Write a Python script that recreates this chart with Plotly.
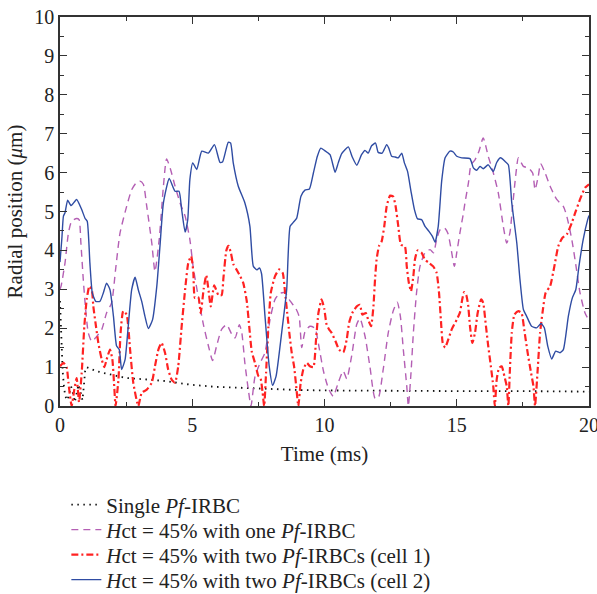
import plotly.graph_objects as go

# ---------------- data ----------------
single_t = [0, 0.03, 0.06, 0.1, 0.15, 0.2, 0.28, 0.35, 0.42, 0.5, 0.56, 0.62, 0.7, 0.78, 0.85, 0.9, 0.95,
            1.0, 1.4, 1.9, 2.5, 3.3, 4.0, 4.9, 5.9, 6.8, 8.0, 9.0, 10.0, 12.0, 14.0, 16.0, 18.0, 20.0]
single_r = [2.7, 2.0, 1.3, 0.9, 0.5, 0.25, 0.15, 0.35, 0.5, 0.3, 0.1, 0.3, 0.55, 0.35, 0.15, 0.5, 0.9,
            1.0, 0.89, 0.81, 0.72, 0.68, 0.64, 0.55, 0.49, 0.47, 0.43, 0.41, 0.4, 0.39, 0.38, 0.38, 0.38, 0.37]

one_t = [0, 0.04, 0.19, 0.32, 0.44, 0.63, 0.72, 0.79, 0.88, 0.97, 1.07, 1.20, 1.39, 1.58, 1.76, 1.95, 2.1,
         2.27, 2.52, 2.71, 2.90, 3.02, 3.15, 3.28, 3.47, 3.59, 3.75, 3.91, 4.03, 4.18, 4.35, 4.54, 4.73,
         4.91, 5.04, 5.23, 5.42, 5.61, 5.77, 5.92, 6.11, 6.30, 6.49, 6.62, 6.78, 6.87, 6.99, 7.12, 7.22,
         7.37, 7.56, 7.75, 7.94, 8.13, 8.32, 8.51, 8.70, 8.92, 9.04, 9.14, 9.26, 9.45, 9.64, 9.77, 9.96,
         10.15, 10.33, 10.52, 10.71, 10.84, 11.03, 11.22, 11.34, 11.53, 11.72, 11.91, 12.03, 12.22, 12.41,
         12.60, 12.75, 12.87, 12.98, 13.11, 13.17, 13.27, 13.36, 13.48, 13.61, 13.80, 13.99, 14.12, 14.24,
         14.37, 14.53, 14.66, 14.78, 14.91, 15.0, 15.12, 15.25, 15.31, 15.44, 15.54, 15.69, 15.84, 16.0,
         16.19, 16.38, 16.57, 16.76, 16.89, 17.01, 17.11, 17.24, 17.33, 17.52, 17.71, 17.87, 17.96, 18.08,
         18.17, 18.34, 18.53, 18.78, 19.03, 19.16, 19.35, 19.51, 19.66, 19.85, 20.0]
one_r = [3.0, 3.08, 3.68, 4.45, 4.75, 4.82, 4.79, 4.19, 3.25, 2.48, 1.88, 1.66, 1.79, 1.97, 2.39, 2.65, 3.5,
         4.45, 5.13, 5.56, 5.75, 5.78, 5.7, 5.13, 4.19, 3.46, 4.28, 5.65, 6.35, 6.08, 5.65, 5.22, 4.88,
         4.28, 3.55, 2.8, 2.1, 1.55, 1.17, 1.54, 1.97, 2.09, 1.85, 1.75, 2.09, 1.9, 1.1, 0.42, 0.0,
         0.75, 1.1, 1.37, 2.22, 2.74, 2.9, 2.91, 2.7, 2.5, 2.3, 1.5, 1.9, 2.05, 2.0, 1.6, 0.9,
         0.45, 0.25, 0.6, 0.9, 0.7, 1.3, 2.1, 2.25, 1.8, 1.0, 0.2, 0.2, 0.94, 1.88,
         2.45, 2.67, 2.3, 1.45, 0.51, 0.0, 0.85, 1.88, 2.91, 3.59, 3.94, 4.02, 3.94, 4.28,
         4.53, 4.58, 4.45, 4.06, 3.59, 3.94, 4.45, 4.95, 5.22, 5.73, 6.2, 6.33, 6.55, 6.89,
         6.42, 6.0, 5.48, 4.62, 4.19, 4.45, 5.13, 5.99, 6.38, 6.16, 6.12, 5.99, 5.56, 5.9,
         6.23, 5.99, 5.65, 5.31, 5.13, 4.88, 4.28, 3.59, 2.91, 2.39, 2.2]

c1_t = [0, 0.13, 0.25, 0.32, 0.38, 0.44, 0.54, 0.63, 0.72, 0.82, 0.92, 1.01, 1.11, 1.2, 1.26, 1.36, 1.45,
        1.58, 1.68, 1.76, 1.89, 1.98, 2.05, 2.1, 2.21, 2.29, 2.39, 2.52, 2.65, 2.77, 2.96, 3.09, 3.28,
        3.47, 3.59, 3.72, 3.84, 3.97, 4.09, 4.22, 4.35, 4.47, 4.60, 4.73, 4.85, 4.96, 5.04, 5.10, 5.23,
        5.32, 5.43, 5.53, 5.62, 5.70, 5.83, 5.99, 6.11, 6.18, 6.29, 6.37, 6.46, 6.55, 6.68, 6.81, 6.93,
        7.06, 7.16, 7.25, 7.37, 7.50, 7.58, 7.66, 7.72, 7.79, 7.88, 7.97, 8.13, 8.29, 8.42, 8.51, 8.59,
        8.67, 8.76, 8.85, 8.93, 9.01, 9.10, 9.20, 9.33, 9.45, 9.58, 9.68, 9.77, 9.89, 9.99, 10.08, 10.17,
        10.27, 10.42, 10.55, 10.71, 10.84, 10.93, 11.05, 11.22, 11.34, 11.43, 11.56, 11.65, 11.76, 11.85,
        11.91, 11.97, 12.06, 12.16, 12.26, 12.35, 12.48, 12.60, 12.69, 12.79, 12.89, 13.04, 13.11, 13.19,
        13.27, 13.36, 13.42, 13.52, 13.67, 13.80, 13.95, 14.11, 14.24, 14.33, 14.40, 14.47, 14.56, 14.68,
        14.81, 15.0, 15.12, 15.21, 15.28, 15.36, 15.43, 15.50, 15.59, 15.69, 15.79, 15.92, 16.0, 16.09,
        16.19, 16.29, 16.38, 16.44, 16.51, 16.60, 16.70, 16.80, 16.89, 16.95, 17.01, 17.08, 17.18, 17.33,
        17.45, 17.55, 17.68, 17.81, 17.90, 17.96, 18.06, 18.15, 18.24, 18.36, 18.53, 18.69, 18.84, 18.99,
        19.16, 19.35, 19.50, 19.66, 19.85, 20.0]
c1_r = [1.02, 1.11, 1.0, 0.6, 0.25, 0.0, 0.42, 0.72, 0.1, 0.85, 2.05, 2.74, 3.08, 3.0, 2.56, 2.05, 1.62,
        1.19, 1.0, 1.19, 1.45, 1.2, 0.51, 0.0, 0.68, 1.88, 2.44, 2.35, 1.45, 0.6, 0.0, 0.34, 0.42,
        0.6, 1.02, 1.45, 1.62, 1.37, 0.94, 0.68, 0.6, 1.02, 2.05, 2.99, 3.68, 3.85, 3.45, 2.78, 2.8,
        2.39, 3.0, 3.36, 2.95, 2.56, 3.1, 2.85, 2.85, 3.3, 4.0, 4.12, 3.94, 3.65, 3.5, 3.34, 3.16,
        2.7, 2.0, 1.4, 1.11, 0.77, 0.72, 0.34, 0.0, 0.85, 2.05, 2.91, 3.34, 3.51, 3.42, 2.91, 2.39,
        1.88, 1.37, 1.02, 0.51, 0.0, 0.6, 0.94, 1.11, 1.02, 1.0, 1.71, 2.39, 2.74, 2.5, 2.09, 1.97,
        1.88, 1.66, 1.45, 1.38, 1.71, 2.14, 2.39, 2.56, 2.6, 2.35, 2.39, 2.22, 2.05, 2.56,
        3.25, 3.77, 4.11, 4.23, 4.62, 5.13, 5.41, 5.38, 5.13, 4.62, 4.15, 4.1, 3.59, 3.16,
        2.95, 3.34, 3.77, 4.0, 3.94, 3.76, 3.68, 3.59, 3.42, 2.91, 2.22, 1.62, 1.5, 1.71,
        1.97, 2.22, 2.4, 2.75, 2.93, 2.85, 2.6, 2.05, 1.62, 1.88, 2.39, 2.74, 2.65, 2.14,
        1.54, 1.02, 0.51, 0.0, 0.68, 0.98, 1.02, 0.77, 0.51, 0.0, 0.94, 1.88, 2.35, 2.44,
        2.39, 1.97, 1.37, 0.85, 0.51, 0.0, 0.94, 1.88, 2.39, 2.91, 3.08, 3.59, 4.11, 4.32,
        4.41, 4.71, 5.01, 5.31, 5.61, 5.7]

c2_t = [0, 0.07, 0.13, 0.19, 0.29, 0.42, 0.63, 0.82, 0.95, 1.03, 1.13, 1.22, 1.35, 1.51, 1.64, 1.76, 1.89,
        2.02, 2.14, 2.24, 2.33, 2.46, 2.58, 2.71, 2.84, 2.96, 3.09, 3.21, 3.34, 3.50, 3.66, 3.78, 3.91,
        4.13, 4.35, 4.50, 4.60, 4.73, 4.83, 4.91, 5.02, 5.17, 5.36, 5.61, 5.84, 6.05, 6.15, 6.36, 6.45,
        6.55, 6.74, 6.99, 7.18, 7.31, 7.45, 7.54, 7.62, 7.75, 7.91, 8.04, 8.17, 8.38, 8.57, 8.70, 8.82,
        8.95, 9.11, 9.26, 9.43, 9.58, 9.73, 9.86, 10.0, 10.21, 10.40, 10.52, 10.65, 10.90, 11.05, 11.22,
        11.40, 11.53, 11.65, 11.78, 11.93, 12.03, 12.18, 12.35, 12.43, 12.54, 12.67, 12.79, 12.92, 13.02,
        13.14, 13.27, 13.40, 13.52, 13.67, 13.80, 13.95, 14.08, 14.18, 14.30, 14.43, 14.56, 14.74, 14.87,
        15.0, 15.19, 15.50, 15.63, 15.75, 15.88, 16.0, 16.19, 16.38, 16.51, 16.66, 16.82, 16.95, 17.08,
        17.27, 17.39, 17.52, 17.64, 17.83, 18.02, 18.19, 18.31, 18.44, 18.59, 18.74, 18.90, 19.03, 19.22,
        19.37, 19.50, 19.62, 19.78, 19.95, 20.0]
c2_r = [3.7, 4.3, 4.88, 4.97, 5.29, 5.15, 5.31, 5.05, 4.82, 4.75, 3.68, 2.91, 2.69, 2.69, 2.91, 3.16, 2.99,
        2.31, 1.54, 1.45, 0.94, 1.19, 2.05, 2.99, 3.31, 2.99, 2.69, 2.31, 1.99, 2.22, 3.08, 4.11, 5.22,
        5.85, 5.52, 5.52, 5.05, 4.47, 4.79, 5.82, 6.25, 6.08, 6.55, 6.5, 6.72, 6.26, 6.28, 6.78, 6.76,
        6.25, 5.65, 5.22, 4.62, 3.59, 3.5, 3.55, 3.4, 2.31, 1.02, 0.53, 0.77, 1.88, 2.99, 4.62, 4.72,
        4.83, 5.39, 5.55, 5.58, 5.99, 6.42, 6.63, 6.57, 6.46, 6.01, 6.25, 6.49, 6.66, 6.40, 6.19,
        6.46, 6.57, 6.5, 6.69, 6.76, 6.52, 6.5, 6.72, 6.63, 6.42, 6.40, 6.38, 6.5, 6.25,
        6.03, 5.52, 5.05, 4.81, 4.79, 4.62, 4.49, 4.36, 4.21, 4.62, 5.78, 6.38, 6.55, 6.53,
        6.42, 6.38, 6.36, 6.12, 6.06, 6.16, 6.1, 6.2, 6.03, 6.26, 6.38, 6.29, 6.2, 5.22,
        4.19, 3.25, 2.48, 2.31, 2.05, 2.01, 2.12, 2.01, 1.54, 1.21, 1.41, 1.37, 1.45, 2.31,
        2.78, 2.99, 3.59, 4.28, 4.79, 4.9]

names = ["Single <i>Pf</i>-IRBC",
         "<i>H</i>ct = 45% with one <i>Pf</i>-IRBC",
         "<i>H</i>ct = 45% with two <i>Pf</i>-IRBCs (cell 1)",
         "<i>H</i>ct = 45% with two <i>Pf</i>-IRBCs (cell 2)"]

x_ticks = [0, 5, 10, 15, 20]
y_ticks = list(range(0, 11))

FONT = "Liberation Serif, Times New Roman, serif"
TXT = "#222222"

fig = go.Figure()
fig.add_trace(go.Scatter(x=single_t, y=single_r, mode="lines", name=names[0], legend="legend", showlegend=True,
                         line=dict(color="#111111", width=1.8, dash="1.5px,4.5px")))
fig.add_trace(go.Scatter(x=one_t, y=one_r, mode="lines", name=names[1], legend="legend2", showlegend=True,
                         line=dict(color="#b45fb4", width=1.4, dash="7px,5px", shape="spline", smoothing=0.6)))
fig.add_trace(go.Scatter(x=c1_t, y=c1_r, mode="lines", name=names[2], legend="legend3", showlegend=True,
                         line=dict(color="#ff2222", width=2.2, dash="7px,3px,2px,3px", shape="spline", smoothing=0.5)))
fig.add_trace(go.Scatter(x=c2_t, y=c2_r, mode="lines", name=names[3], legend="legend4", showlegend=True,
                         line=dict(color="#2f4ca3", width=1.4, shape="spline", smoothing=0.5)))

axis_common = dict(showline=True, linecolor="#333333", linewidth=1.5, mirror="ticks",
                   ticks="inside", ticklen=7, tickwidth=1, tickcolor="#333333",
                   showgrid=False, zeroline=False, automargin=False,
                   ticklabeloverflow="allow",
                   tickfont=dict(family=FONT, size=20, color=TXT))

fig.update_xaxes(range=[0, 20], tickvals=x_ticks,
                 minor=dict(dtick=2.5, ticks="inside", ticklen=4, tickcolor="#333333"),
                 title=dict(text="Time (ms)", font=dict(family=FONT, size=21, color=TXT), standoff=12),
                 **axis_common)
fig.update_yaxes(range=[0, 10], tickvals=y_ticks,
                 minor=dict(dtick=0.5, ticks="inside", ticklen=4, tickcolor="#333333"),
                 title=dict(text="Radial position (<i>μ</i>m)", font=dict(family=FONT, size=21, color=TXT), standoff=6),
                 **axis_common)

leg_font = dict(family=FONT, size=21, color=TXT)
leg_x = 0.012
leg_rows = [-0.2545, -0.3188, -0.383, -0.4473]
legend_common = dict(x=leg_x, xanchor="left", yanchor="middle", font=leg_font,
                     bgcolor="rgba(0,0,0,0)")

fig.update_layout(
    width=597, height=594,
    showlegend=True,
    margin=dict(l=60, r=8, t=17, b=188, autoexpand=False),
    paper_bgcolor="white", plot_bgcolor="white",
    font=dict(family=FONT, size=20, color=TXT),
    legend=dict(y=leg_rows[0], **legend_common),
    legend2=dict(y=leg_rows[1], **legend_common),
    legend3=dict(y=leg_rows[2], **legend_common),
    legend4=dict(y=leg_rows[3], **legend_common),
)

fig.write_html("out.html")
